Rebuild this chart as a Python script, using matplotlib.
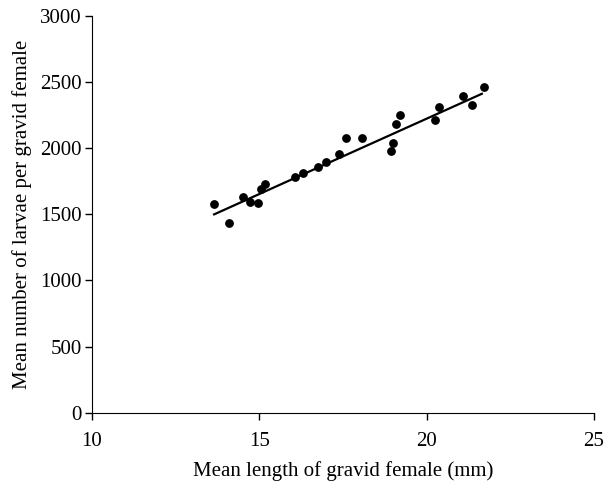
import matplotlib
matplotlib.use("Agg")
from matplotlib import pyplot as plt

# mean length of gravid female (mm) and mean larvae per female
lengths = [13.65, 14.10, 14.50, 14.72, 14.97, 15.04, 15.17, 16.07, 16.32, 16.75,
           16.99, 17.38, 17.60, 18.06, 18.94, 18.99, 19.07, 19.19, 20.25, 20.37,
           21.08, 21.35, 21.71]
larvae = [1580, 1437, 1631, 1593, 1586, 1692, 1730, 1782, 1810, 1861,
          1894, 1954, 2075, 2075, 1979, 2037, 2183, 2249, 2216, 2312,
          2397, 2325, 2461]

# fitted line end points
fit_x = [13.65, 21.65]
fit_y = [1500, 2412]

plt.rcParams['font.family'] = ['Liberation Serif', 'DejaVu Serif']

fig = plt.figure(figsize=(6.04, 4.86), dpi=100)
ax = fig.add_axes([0.1523, 0.1508, 0.8311, 0.8162])
ax.plot(lengths, larvae, 'o', color='black', markersize=5.3)
ax.plot(fit_x, fit_y, color='black', linewidth=1.6)

ax.set_xlim(10, 25)
ax.set_ylim(0, 3000)
ax.set_xticks([10, 15, 20, 25])
ax.set_yticks(range(0, 3001, 500))
ax.spines['top'].set_visible(False)
ax.spines['right'].set_visible(False)
ax.tick_params(axis='both', direction='out', length=5, width=1, labelsize=15)
ax.tick_params(axis='x', pad=9)
ax.tick_params(axis='y', pad=2.5)
ax.set_xlabel('Mean length of gravid female (mm)', fontsize=15, labelpad=7)
ax.set_ylabel('Mean number of larvae per gravid female', fontsize=15, labelpad=6)

fig.savefig('out.png', dpi=100)
